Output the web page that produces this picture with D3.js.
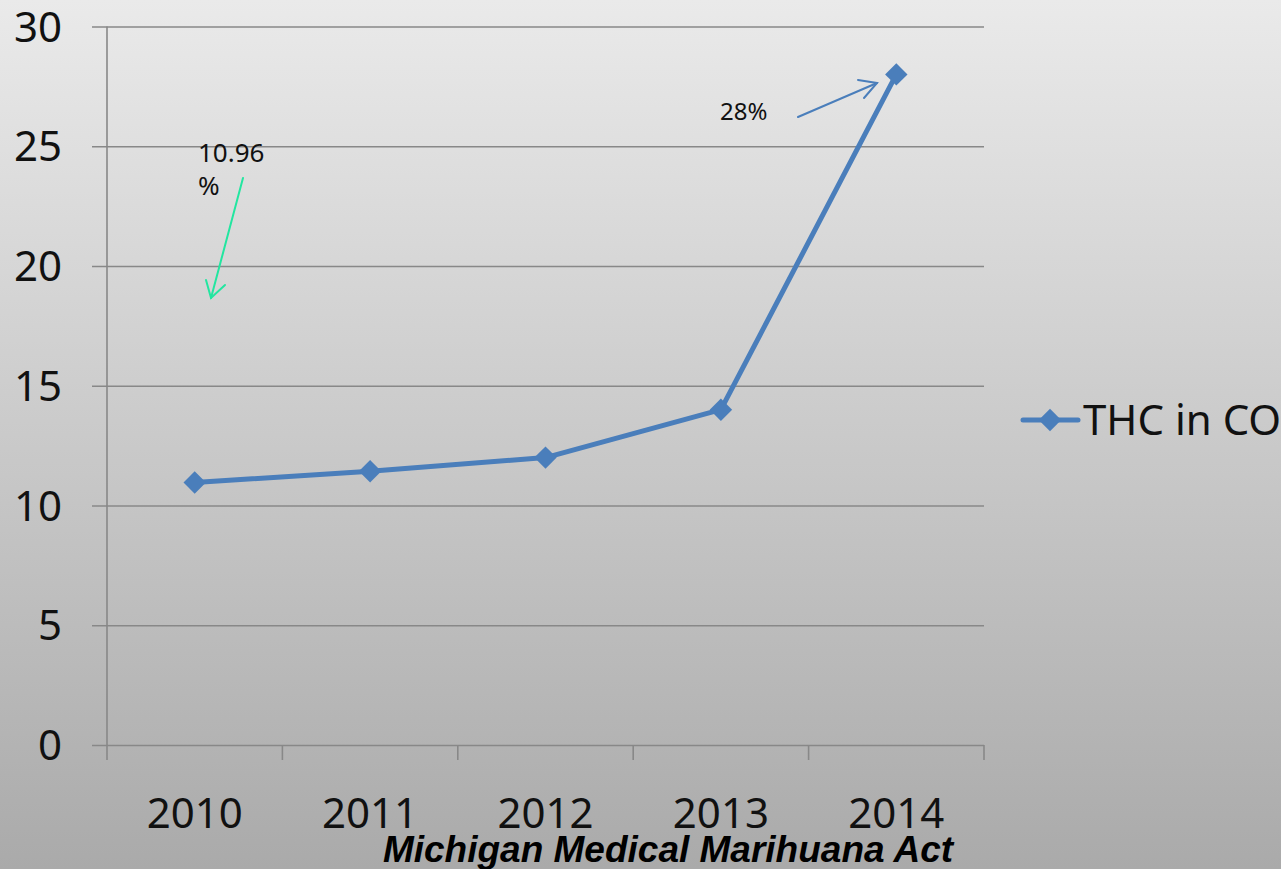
<!DOCTYPE html>
<html>
<head>
<meta charset="utf-8">
<script src="https://cdn.jsdelivr.net/npm/d3@7"></script>
<style>
  html, body { margin: 0; padding: 0; background: #cccccc; }
  svg { display: block; }
</style>
</head>
<body>
<svg id="chart" width="1281" height="869"></svg>
<script>
// THC potency in Colorado, percent
const years = ["2010", "2011", "2012", "2013", "2014"];
const thcValues = [10.96, 11.43, 12.0, 14.0, 28.0];
const yTicks = [0, 5, 10, 15, 20, 25, 30];
const seriesName = "THC in CO";
const footnote = "Michigan Medical Marihuana Act";
const firstNote = ["10.96", "%"];
const lastNote = "28%";

const W = 1281, H = 869;
const svg = d3.select("#chart");

// soft vertical gray background
const defs = svg.append("defs");
const grad = defs.append("linearGradient")
  .attr("id", "bg").attr("x1", 0).attr("y1", 0).attr("x2", 0).attr("y2", 1);
grad.append("stop").attr("offset", "0%").attr("stop-color", "#eaeaea");
grad.append("stop").attr("offset", "100%").attr("stop-color", "#aaaaaa");
svg.append("rect").attr("width", W).attr("height", H).attr("fill", "url(#bg)");

const plot = { left: 107, right: 984, top: 26.5, bottom: 745 };

const x = d3.scaleBand().domain(years).range([plot.left, plot.right]).padding(0);
const y = d3.scaleLinear().domain([0, 30]).range([plot.bottom, plot.top]);

const gridColor = "#888888";
const font = "'Noto Sans', 'Open Sans', sans-serif";

// horizontal gridlines with short outer ticks on the left
const yAxis = d3.axisLeft(y).tickValues(yTicks)
  .tickSize(-(plot.right - plot.left)).tickSizeOuter(0).tickFormat("");
const gy = svg.append("g").attr("transform", `translate(${plot.left},0)`).call(yAxis);
gy.select(".domain").remove();
gy.selectAll(".tick line")
  .attr("x1", -15)
  .attr("stroke", gridColor).attr("stroke-width", 1.6);

// y tick labels
svg.append("g").selectAll("text").data(yTicks).join("text")
  .attr("x", 62).attr("y", d => y(d) + 15)
  .attr("text-anchor", "end")
  .attr("font-family", font).attr("font-size", 42).attr("fill", "#111")
  .text(d => d);

// vertical axis line
svg.append("line")
  .attr("x1", plot.left).attr("x2", plot.left)
  .attr("y1", plot.top).attr("y2", plot.bottom + 15)
  .attr("stroke", gridColor).attr("stroke-width", 1.6);

// category boundary ticks below the baseline
const boundaries = years.map(d => x(d)).slice(1).concat([plot.right]);
svg.append("g").selectAll("line").data(boundaries).join("line")
  .attr("x1", d => d).attr("x2", d => d)
  .attr("y1", plot.bottom).attr("y2", plot.bottom + 15)
  .attr("stroke", gridColor).attr("stroke-width", 1.6);

// category labels
svg.append("g").selectAll("text").data(years).join("text")
  .attr("x", d => x(d) + x.bandwidth() / 2).attr("y", 828)
  .attr("text-anchor", "middle")
  .attr("font-family", font).attr("font-size", 42).attr("fill", "#111")
  .text(d => d);

// series line and diamond markers
const lineColor = "#4a7ebb";
const pts = years.map((d, i) => [x(d) + x.bandwidth() / 2, y(thcValues[i])]);
svg.append("path")
  .attr("d", d3.line()(pts))
  .attr("fill", "none").attr("stroke", lineColor)
  .attr("stroke-width", 5).attr("stroke-linejoin", "round");

const diamond = d3.symbol().type(d3.symbolDiamond2).size(320);
svg.append("g").selectAll("path").data(pts).join("path")
  .attr("transform", d => `translate(${d[0]},${d[1]})`)
  .attr("d", diamond)
  .attr("fill", lineColor);

// legend
svg.append("line")
  .attr("x1", 1023).attr("x2", 1078).attr("y1", 420).attr("y2", 420)
  .attr("stroke", lineColor).attr("stroke-width", 5).attr("stroke-linecap", "round");
svg.append("path")
  .attr("transform", "translate(1050,420)")
  .attr("d", diamond).attr("fill", lineColor);
svg.append("text")
  .attr("x", 1083).attr("y", 435)
  .attr("font-family", font).attr("font-size", 42).attr("fill", "#111")
  .text(seriesName);

// annotation for the first value
const noteFont = 26;
svg.append("text")
  .attr("font-family", font).attr("font-size", noteFont).attr("fill", "#111")
  .selectAll("tspan").data(firstNote).join("tspan")
  .attr("x", 198).attr("y", (d, i) => 162 + i * 33)
  .text(d => d);

const green = "#22e6a0";
const gArrow = svg.append("g").attr("stroke", green).attr("stroke-width", 2)
  .attr("fill", "none").attr("stroke-linecap", "round");
gArrow.append("line").attr("x1", 243).attr("y1", 178).attr("x2", 211).attr("y2", 298);
gArrow.append("polyline").attr("points", "206,280 211,298 225,285");

// annotation for the last value
svg.append("text")
  .attr("x", 720).attr("y", 120)
  .attr("font-family", font).attr("font-size", 24).attr("fill", "#111")
  .text(lastNote);
const bArrow = svg.append("g").attr("stroke", lineColor).attr("stroke-width", 2)
  .attr("fill", "none").attr("stroke-linecap", "round");
bArrow.append("line").attr("x1", 798).attr("y1", 117).attr("x2", 877).attr("y2", 83);
bArrow.append("polyline").attr("points", "858,80 877,83 864,98");

// footnote
svg.append("text")
  .attr("x", 668).attr("y", 862)
  .attr("text-anchor", "middle")
  .attr("font-family", "'Liberation Sans', Arial, sans-serif")
  .attr("font-weight", "bold").attr("font-style", "italic")
  .attr("font-size", 37).attr("fill", "#000")
  .text(footnote);
</script>
</body>
</html>
